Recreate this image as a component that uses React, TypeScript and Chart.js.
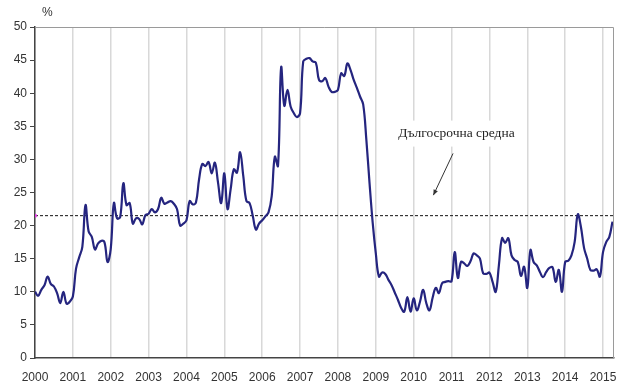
import { useEffect, useRef } from "react";
import { Chart, registerables } from "chart.js";

Chart.register(...registerables);

// ---- DATA (monthly, %) ----
const START_YEAR = 2000;
const m2000 = [10.0, 9.4, 10.3, 11.0, 12.3, 11.2, 10.8, 9.8, 8.3, 10.0, 8.2, 8.5];
const m2001 = [9.3, 13.5, 15.2, 16.8, 23.1, 19.1, 18.3, 16.4, 17.3, 17.7, 17.5, 14.5];
const m2002 = [16.5, 23.4, 21.1, 21.3, 26.4, 23.1, 23.4, 20.3, 21.1, 21.0, 20.2, 21.6];
const m2003 = [21.8, 22.5, 22.0, 22.5, 24.2, 23.3, 23.5, 23.7, 23.3, 22.5, 20.0, 20.3];
const m2004 = [20.8, 23.7, 23.2, 23.5, 27.0, 29.3, 29.0, 29.6, 27.9, 29.5, 26.5, 23.4];
const m2005 = [27.9, 22.5, 25.5, 28.5, 28.0, 31.1, 27.5, 23.7, 23.4, 21.5, 19.4, 20.3];
const m2006 = [20.8, 21.4, 22.0, 24.4, 30.4, 29.0, 43.9, 38.1, 40.5, 38.0, 37.0, 36.4];
const m2007 = [37.0, 44.8, 45.2, 45.3, 44.8, 44.6, 42.0, 41.8, 42.3, 41.0, 40.2, 40.2];
const m2008 = [40.5, 43.0, 42.6, 44.5, 43.5, 42.0, 40.8, 39.5, 38.3, 33.0, 26.5, 20.5];
const m2009 = [15.8, 12.3, 12.9, 12.7, 11.8, 11.0, 9.9, 8.8, 7.6, 7.0, 9.2, 7.0];
const m2010 = [9.0, 7.2, 8.5, 10.3, 8.3, 7.2, 9.1, 10.6, 9.8, 11.3, 11.5, 11.6];
const m2011 = [11.6, 16.0, 12.1, 14.5, 14.3, 13.9, 14.6, 15.8, 15.5, 15.0, 12.8, 12.7];
const m2012 = [12.9, 11.5, 10.0, 14.0, 18.1, 17.4, 18.1, 15.5, 14.8, 14.5, 12.4, 13.8];
const m2013 = [10.6, 16.3, 14.5, 14.0, 13.0, 12.2, 13.0, 13.6, 13.7, 11.5, 13.3, 10.0];
const m2014 = [14.5, 14.7, 15.5, 17.5, 21.7, 19.8, 16.6, 15.0, 13.3, 13.2, 13.4, 12.3];
const m2015 = [16.0, 17.5, 18.3, 20.6];

const yearTicks = [2000, 2001, 2002, 2003, 2004, 2005, 2006, 2007, 2008, 2009, 2010, 2011, 2012, 2013, 2014, 2015];
const X_MAX = 2015.29;
const LONG_TERM_AVG = 21.5;
const AVG_LABEL = "Дългосрочна средна";
const Y_UNIT = "%";
const Y_MIN = 0;
const Y_MAX = 50;
const Y_STEP = 5;

const allMonths = [
  ...m2000, ...m2001, ...m2002, ...m2003, ...m2004, ...m2005, ...m2006, ...m2007,
  ...m2008, ...m2009, ...m2010, ...m2011, ...m2012, ...m2013, ...m2014, ...m2015,
];

const overlayPlugin = {
  id: "overlay",
  afterDatasetsDraw(chart: any) {
    const { ctx, chartArea, scales } = chart;
    const xs = scales.x;
    const ys = scales.y;
    ctx.save();
    // frame (top + right)
    ctx.strokeStyle = "#9a9a9a";
    ctx.lineWidth = 1;
    ctx.beginPath();
    ctx.moveTo(chartArea.left, chartArea.top + 0.5);
    ctx.lineTo(chartArea.right - 0.5, chartArea.top + 0.5);
    ctx.lineTo(chartArea.right - 0.5, chartArea.bottom);
    ctx.stroke();

    // unit label
    ctx.fillStyle = "#333";
    ctx.font = "12px 'Liberation Sans', sans-serif";
    ctx.textAlign = "left";
    ctx.textBaseline = "middle";
    ctx.fillText(Y_UNIT, chartArea.left + 7, 13);

    // annotation text with white box
    const tx = xs.getPixelForValue(2011.13);
    const ty = ys.getPixelForValue(33.9);
    ctx.font = "13.5px 'Liberation Serif', serif";
    const w = ctx.measureText(AVG_LABEL).width;
    ctx.fillStyle = "#ffffff";
    ctx.fillRect(tx - w / 2 - 8, ty - 13, w + 16, 26);
    ctx.fillStyle = "#222";
    ctx.textAlign = "center";
    ctx.fillText(AVG_LABEL, tx, ty);

    // arrow
    const x1 = xs.getPixelForValue(2011.04);
    const y1 = ys.getPixelForValue(30.9);
    const x2 = xs.getPixelForValue(2010.52);
    const y2 = ys.getPixelForValue(24.6);
    ctx.strokeStyle = "#333";
    ctx.fillStyle = "#333";
    ctx.lineWidth = 1;
    ctx.beginPath();
    ctx.moveTo(x1, y1);
    ctx.lineTo(x2, y2);
    ctx.stroke();
    const ang = Math.atan2(y2 - y1, x2 - x1);
    const hl = 6;
    ctx.beginPath();
    ctx.moveTo(x2, y2);
    ctx.lineTo(x2 - hl * Math.cos(ang - 0.4), y2 - hl * Math.sin(ang - 0.4));
    ctx.lineTo(x2 - hl * Math.cos(ang + 0.4), y2 - hl * Math.sin(ang + 0.4));
    ctx.closePath();
    ctx.fill();
    ctx.restore();
  },
};

export default function App() {
  const ref = useRef<HTMLCanvasElement | null>(null);
  useEffect(() => {
    if (!ref.current) return;
    const series = allMonths.map((v, i) => ({ x: START_YEAR + i / 12, y: v }));
    const avgLine = [
      { x: START_YEAR, y: LONG_TERM_AVG },
      { x: X_MAX, y: LONG_TERM_AVG },
    ];
    const chart = new Chart(ref.current, {
      type: "line",
      data: {
        datasets: [
          {
            data: series,
            borderColor: "#25257f",
            borderWidth: 2.2,
            pointRadius: 0,
            tension: 0.4,
            fill: false,
          },
          {
            data: avgLine,
            borderColor: "#111",
            borderWidth: 1,
            borderDash: [3, 2],
            pointRadius: [2, 0],
            pointBackgroundColor: "#e040e0",
            pointBorderWidth: 0,
            tension: 0,
            fill: false,
          },
        ],
      },
      options: {
        animation: false,
        responsive: false,
        events: [],
        layout: { padding: { top: 27, right: 16, left: 0, bottom: 0 } },
        plugins: { legend: { display: false }, tooltip: { enabled: false } },
        scales: {
          x: {
            type: "linear",
            min: START_YEAR,
            max: X_MAX,
            afterFit: (s: any) => {
              s.height = 32;
            },
            afterBuildTicks: (s: any) => {
              s.ticks = yearTicks.map((v) => ({ value: v }));
            },
            ticks: {
              stepSize: 1,
              includeBounds: false,
              autoSkip: false,
              maxRotation: 0,
              padding: 12,
              color: "#333",
              font: { family: "'Liberation Sans', sans-serif", size: 12 },
              callback: (v: any) => String(v),
            },
            grid: {
              color: "#d8d8d8",
              lineWidth: 1.5,
              drawTicks: false,
            },
            border: { color: "#444", width: 1.5 },
          },
          y: {
            min: Y_MIN,
            max: Y_MAX,
            afterFit: (s: any) => {
              s.width = 35;
            },
            ticks: {
              stepSize: Y_STEP,
              padding: 3,
              color: "#333",
              font: { family: "'Liberation Sans', sans-serif", size: 12 },
            },
            grid: {
              drawOnChartArea: false,
              drawTicks: true,
              tickLength: 5,
              color: "#444",
            },
            border: { color: "#444", width: 1.5 },
          },
        },
      },
      plugins: [overlayPlugin],
    });
    return () => chart.destroy();
  }, []);
  return (
    <div style={{ position: "fixed", left: 0, top: 0, width: 630, height: 390, background: "#fff" }}>
      <canvas ref={ref} width={630} height={390} />
    </div>
  );
}
